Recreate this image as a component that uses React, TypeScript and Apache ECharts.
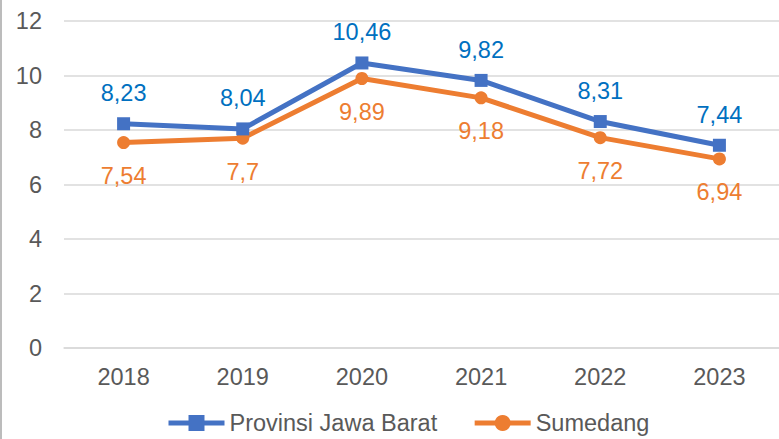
import React, { useEffect, useRef } from "react";
import * as echarts from "echarts";

const categories = ["2018", "2019", "2020", "2021", "2022", "2023"];
const jabar = [8.23, 8.04, 10.46, 9.82, 8.31, 7.44];
const sumedang = [7.54, 7.7, 9.89, 9.18, 7.72, 6.94];
const seriesNames = ["Provinsi Jawa Barat", "Sumedang"];

const fmt = (p: any) => String(p.value).replace(".", ",");

export default function App() {
  const ref = useRef<HTMLDivElement>(null);
  useEffect(() => {
    if (!ref.current) return;
    const chart = echarts.init(ref.current, undefined, { renderer: "svg" });
    const font = "Liberation Sans, Arial, sans-serif";
    const fs = 23.5;
    chart.setOption({
      animation: false,
      textStyle: { fontFamily: font },
      grid: { left: 64, right: 0, top: 21, bottom: 91, containLabel: false },
      graphic: [
        {
          type: "line",
          shape: { x1: 1, y1: 0, x2: 1, y2: 439 },
          style: { stroke: "#a6a6a6", lineWidth: 1.5 },
        },
      ],
      legend: {
        left: 161,
        top: 406,
        itemWidth: 56,
        itemHeight: 20,
        itemGap: 35,
        lineStyle: { width: 5 },
        textStyle: { fontSize: fs, color: "#595959", fontFamily: font },
        data: seriesNames,
      },
      xAxis: {
        type: "category",
        data: categories,
        boundaryGap: true,
        axisLine: { lineStyle: { color: "#d9d9d9", width: 1.5 } },
        axisTick: { show: false },
        axisLabel: { fontSize: fs, color: "#595959", margin: 17, fontFamily: font },
      },
      yAxis: {
        type: "value",
        min: 0,
        max: 12,
        interval: 2,
        axisLine: { show: false },
        axisTick: { show: false },
        splitLine: { lineStyle: { color: "#d9d9d9", width: 1.5 } },
        axisLabel: { fontSize: fs, color: "#595959", margin: 22, fontFamily: font },
      },
      series: [
        {
          name: seriesNames[0],
          type: "line",
          data: jabar,
          symbol: "rect",
          symbolSize: 13,
          lineStyle: { color: "#4472C4", width: 5 },
          itemStyle: { color: "#4472C4" },
          label: {
            show: true,
            position: "top",
            distance: 12,
            formatter: fmt,
            fontSize: fs,
            color: "#0070C0",
            fontFamily: font,
          },
          z: 3,
        },
        {
          name: seriesNames[1],
          type: "line",
          data: sumedang,
          symbol: "circle",
          symbolSize: 13,
          lineStyle: { color: "#ED7D31", width: 5 },
          itemStyle: { color: "#ED7D31" },
          label: {
            show: true,
            position: "bottom",
            distance: 15,
            formatter: fmt,
            fontSize: fs,
            color: "#ED7D31",
            fontFamily: font,
          },
          z: 2,
        },
      ],
    });
    return () => chart.dispose();
  }, []);
  return (
    <div
      ref={ref}
      style={{ position: "fixed", left: 0, top: 0, width: 779, height: 439, background: "#fff" }}
    />
  );
}
